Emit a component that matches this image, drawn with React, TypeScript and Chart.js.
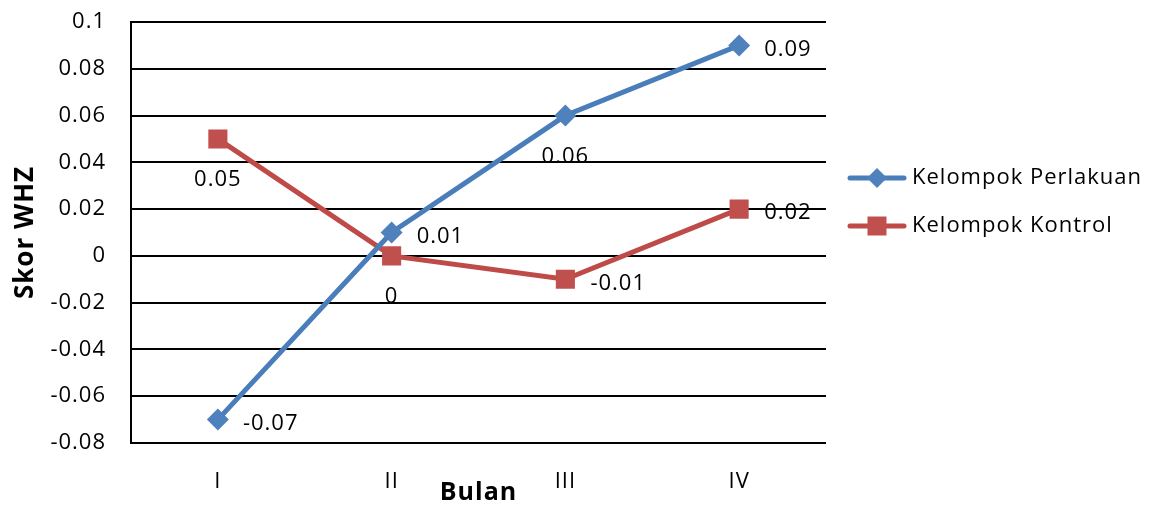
import React, { useEffect, useRef } from "react";
import { Chart, registerables } from "chart.js";

Chart.register(...registerables);

// Months (categories) and WHZ score per group
const bulan = ["I", "II", "III", "IV"];
const perlakuan = [-0.07, 0.01, 0.06, 0.09];
const kontrol = [0.05, 0, -0.01, 0.02];

// Where each value label sits relative to its point
const perlakuanLabelPos = ["right", "right", "below", "right"];
const kontrolLabelPos = ["below", "below", "right", "right"];

const yTicks = [0.1, 0.08, 0.06, 0.04, 0.02, 0, -0.02, -0.04, -0.06, -0.08];

const FONT = "'Open Sans', sans-serif";
const TEXT_SIZE = 22;
const SPACING = "1px";

const BLUE_LINE = "#4A7EBB";
const BLUE_MARK = "#4F81BD";
const RED_LINE = "#BE4B48";
const RED_MARK = "#C0504D";

const fmt = (v: number) => String(Math.round(v * 100) / 100);

// Slightly open letter spacing for all canvas text
const textSpacing = {
  id: "textSpacing",
  beforeLayout(chart: any) {
    chart.ctx.letterSpacing = SPACING;
  },
  beforeDraw(chart: any) {
    chart.ctx.letterSpacing = SPACING;
  },
};

// Value labels next to every point
const valueLabels = {
  id: "valueLabels",
  afterDatasetsDraw(chart: any) {
    const ctx = chart.ctx;
    ctx.save();
    ctx.letterSpacing = SPACING;
    ctx.font = `${TEXT_SIZE}px ${FONT}`;
    ctx.fillStyle = "#000";
    chart.data.datasets.forEach((ds: any, di: number) => {
      const meta = chart.getDatasetMeta(di);
      const pos: string[] = ds.labelPos;
      meta.data.forEach((pt: any, i: number) => {
        const text = fmt(ds.data[i]);
        ctx.textBaseline = "middle";
        if (pos[i] === "below") {
          ctx.textAlign = "center";
          ctx.fillText(text, pt.x, pt.y + 41);
        } else {
          ctx.textAlign = "left";
          ctx.fillText(text, pt.x + 25, pt.y + 4);
        }
      });
    });
    ctx.restore();
  },
};

// Legend on the right: line sample with marker, then the series name
const sideLegend = {
  id: "sideLegend",
  afterDraw(chart: any) {
    const ctx = chart.ctx;
    const area = chart.chartArea;
    const x0 = area.right + 24;
    const lineLen = 54;
    ctx.save();
    ctx.letterSpacing = SPACING;
    chart.data.datasets.forEach((ds: any, di: number) => {
      const y = area.top + 156 + di * 48;
      const cx = x0 + lineLen / 2;
      ctx.strokeStyle = ds.borderColor;
      ctx.lineWidth = 5;
      ctx.lineCap = "round";
      ctx.beginPath();
      ctx.moveTo(x0, y);
      ctx.lineTo(x0 + lineLen, y);
      ctx.stroke();
      ctx.fillStyle = ds.pointBackgroundColor;
      ctx.beginPath();
      if (ds.pointStyle === "rectRot") {
        const r = 10;
        ctx.moveTo(cx, y - r);
        ctx.lineTo(cx + r, y);
        ctx.lineTo(cx, y + r);
        ctx.lineTo(cx - r, y);
        ctx.closePath();
      } else {
        const h = 9.5;
        ctx.rect(cx - h, y - h, 2 * h, 2 * h);
      }
      ctx.fill();
      ctx.fillStyle = "#000";
      ctx.font = `${TEXT_SIZE}px ${FONT}`;
      ctx.textAlign = "left";
      ctx.textBaseline = "middle";
      ctx.fillText(ds.label, x0 + lineLen + 8, y);
    });
    ctx.restore();
  },
};

export default function App() {
  const canvasRef = useRef<HTMLCanvasElement | null>(null);

  useEffect(() => {
    if (!canvasRef.current) return;
    const chart = new Chart(canvasRef.current, {
      type: "line",
      data: {
        labels: bulan,
        datasets: [
          {
            label: "Kelompok Perlakuan",
            data: perlakuan,
            borderColor: BLUE_LINE,
            backgroundColor: BLUE_MARK,
            pointBackgroundColor: BLUE_MARK,
            pointBorderColor: BLUE_MARK,
            pointStyle: "rectRot",
            pointRadius: 11,
            pointBorderWidth: 0,
            borderWidth: 5,
            tension: 0,
            labelPos: perlakuanLabelPos,
          } as any,
          {
            label: "Kelompok Kontrol",
            data: kontrol,
            borderColor: RED_LINE,
            backgroundColor: RED_MARK,
            pointBackgroundColor: RED_MARK,
            pointBorderColor: RED_MARK,
            pointStyle: "rect",
            pointRadius: 13.5,
            pointBorderWidth: 0,
            borderWidth: 5,
            tension: 0,
            labelPos: kontrolLabelPos,
          } as any,
        ],
      },
      options: {
        animation: false,
        responsive: true,
        maintainAspectRatio: false,
        layout: { padding: { left: 0, right: 348, top: 22, bottom: 0 } },
        plugins: {
          legend: { display: false },
          tooltip: { enabled: false },
        },
        scales: {
          x: {
            offset: true,
            grid: { display: false, drawTicks: false },
            border: { display: false },
            ticks: {
              padding: 26,
              color: "#000",
              font: { family: FONT, size: TEXT_SIZE },
            },
            title: {
              display: true,
              text: "Bulan",
              color: "#000",
              font: { family: FONT, size: 25, weight: "bold" },
              padding: { top: 0, bottom: 0 },
            },
            afterFit(scale: any) {
              scale.height = 65;
            },
          },
          y: {
            min: -0.08,
            max: 0.1,
            afterBuildTicks(scale: any) {
              scale.ticks = yTicks.map((v) => ({ value: v }));
            },
            grid: { color: "#000", lineWidth: 2, drawTicks: false },
            border: { display: true, color: "#000", width: 2 },
            ticks: {
              padding: 25,
              color: "#000",
              font: { family: FONT, size: TEXT_SIZE },
              callback: (v: any) => fmt(Number(v)),
            },
            title: {
              display: true,
              text: "Skor WHZ",
              color: "#000",
              font: { family: FONT, size: 26, weight: "bold" },
              padding: { top: 10, bottom: 0 },
            },
            afterFit(scale: any) {
              scale.width = 131;
              // tick padding is horizontal here; keep it out of the vertical margins
              scale.paddingTop = 0;
              scale.paddingBottom = 0;
            },
          },
        },
      },
      plugins: [textSpacing, valueLabels, sideLegend],
    });
    return () => chart.destroy();
  }, []);

  return (
    <div style={{ position: "fixed", left: 0, top: 0, width: 1174, height: 508, background: "#fff" }}>
      <canvas ref={canvasRef} />
    </div>
  );
}
